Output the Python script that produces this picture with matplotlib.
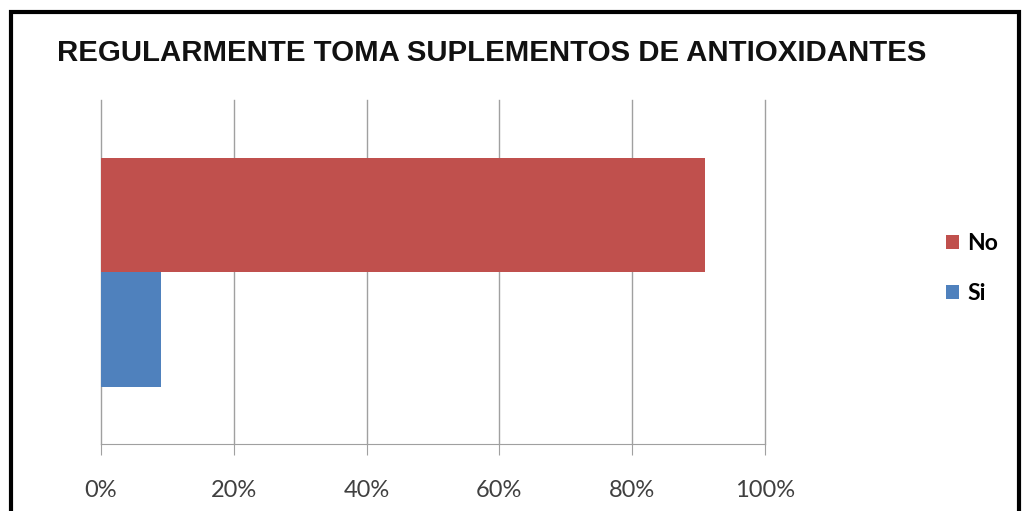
import matplotlib.pyplot as plt
from matplotlib.patches import Rectangle
from matplotlib.ticker import FuncFormatter

# Datos
series = ["No", "Si"]
valores = [91, 9]  # porcentaje
colores = ["#C0504D", "#4F81BD"]
ticks = [0, 20, 40, 60, 80, 100]

fig = plt.figure(figsize=(10.23, 5.11), dpi=100)
ax = fig.add_axes([0.0987, 0.131, 0.649, 0.673])

# Una sola categoría con dos barras apiladas verticalmente
alto = 0.333
centros = [0.5 + alto / 2, 0.5 - alto / 2]
for nombre, v, c, y in zip(series, valores, colores, centros):
    ax.barh(y, v, height=alto, color=c, label=nombre, zorder=3)

ax.set_xlim(0, 100)
ax.set_ylim(0, 1)
ax.set_xticks(ticks)
ax.xaxis.set_major_formatter(FuncFormatter(lambda x, p: f"{x:.0f}%"))
ax.set_yticks([])
ax.grid(axis="x", color="#a0a0a0", lw=1, zorder=0)
for gl in ax.get_xgridlines():
    gl.set_clip_on(False)
for s in ["top", "right", "left"]:
    ax.spines[s].set_visible(False)
ax.spines["bottom"].set_color("#a0a0a0")
ax.tick_params(axis="x", direction="out", length=8, color="#a0a0a0",
               labelsize=17, labelcolor="#404040", pad=18)
for t in ax.get_xticklabels():
    t.set_family("Lato")

fig.text(0.0557, 0.896, "REGULARMENTE TOMA SUPLEMENTOS DE ANTIOXIDANTES",
         fontsize=21.2, fontweight="bold", family="Liberation Sans",
         ha="left", va="center", color="#111111")

h, l = ax.get_legend_handles_labels()
fig.legend(h, l, loc="center left", bbox_to_anchor=(0.905, 0.474), frameon=False,
           prop={"family": "Lato", "weight": "bold", "size": 16.5},
           handlelength=0.55, handleheight=0.55, handletextpad=0.35, labelspacing=1.25)

# Marco exterior
fig.patches.append(Rectangle((11 / 1023, -0.1), 1008 / 1023, 1.1 - 12 / 511,
                             transform=fig.transFigure, fill=False,
                             edgecolor="black", lw=3))

fig.savefig("out.png", dpi=100)
